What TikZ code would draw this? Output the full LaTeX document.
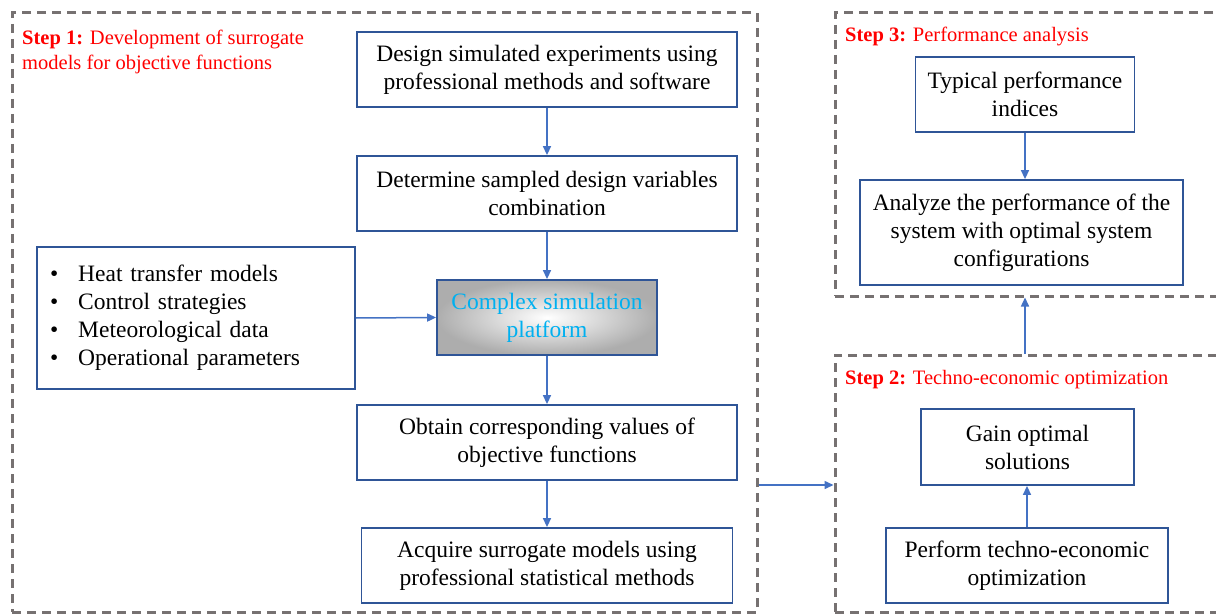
\documentclass[tikz,border=0pt]{standalone}
\usepackage{fontspec}
\setmainfont{Liberation Serif}
\usetikzlibrary{arrows.meta}
\definecolor{frameblue}{HTML}{2F5597}
\definecolor{arrowblue}{HTML}{4472C4}
\definecolor{dashgray}{HTML}{767171}
\definecolor{steptext}{HTML}{FF0000}
\definecolor{simtext}{HTML}{00B0F0}
\tikzset{
  box/.style={draw=frameblue, line width=1.8pt, fill=white, align=center,
    inner sep=0pt, font=\fontsize{23.5}{28}\selectfont},
  stage/.style={draw=dashgray, line width=3pt, dash pattern=on 9pt off 6pt,
    inner sep=0pt},
  flow/.style={draw=arrowblue, line width=1.5pt,
    -{Triangle[length=9pt,width=8pt]}},
  steplabel/.style={text=steptext, anchor=north west, align=left, inner sep=0pt,
    font=\fontsize{20.5}{25}\selectfont},
}
\begin{document}
\begin{tikzpicture}[x=1pt, y=-1pt]
\useasboundingbox (0,0) rectangle (1216,615);
\fill[white] (0,0) rectangle (1216,615);

% dashed stage frames
\node[stage, minimum width=745pt, minimum height=599pt] (s1) at (384.5,312.5) {};
\node[stage, minimum width=400pt, minimum height=283pt] (s3) at (1035,154.5) {};
\node[stage, minimum width=400pt, minimum height=257pt] (s2) at (1035,483.5) {};

% stage titles
\node[steplabel] (t1) at (22,30) {\textbf{Step 1:} Development of surrogate\\models for objective functions};
\node[steplabel] (t3) at (845,27) {\textbf{Step 3:} Performance analysis};
\node[steplabel] (t2) at (845,370) {\textbf{Step 2:} Techno-economic optimization};

% step 1 chain
\node[box, minimum width=380pt, minimum height=75pt] (design) at (547,69.5)
  {Design simulated experiments using\\professional methods and software};
\node[box, minimum width=380pt, minimum height=75pt] (determine) at (547,193.5)
  {Determine sampled design variables\\combination};
\node[box, minimum width=220pt, minimum height=75pt, inner color=white,
  outer color=black!32, text=simtext] (platform) at (547,317.5)
  {Complex simulation\\platform};
\node[box, minimum width=380pt, minimum height=75pt] (obtain) at (547,442.5)
  {Obtain corresponding values of\\objective functions};
\node[box, minimum width=371pt, minimum height=75pt] (acquire) at (547,565.5)
  {Acquire surrogate models using\\professional statistical methods};

% simulation inputs
\node[box, minimum height=142pt, inner xsep=13pt, text width=292pt, align=left]
  (inputs) at (196,318)
  {\textbullet\hspace{20pt}Heat transfer models\\
   \textbullet\hspace{20pt}Control strategies\\
   \textbullet\hspace{20pt}Meteorological data\\
   \textbullet\hspace{20pt}Operational parameters};

% step 3 boxes
\node[box, minimum width=219pt, minimum height=75pt] (typical) at (1025,94.5)
  {Typical performance\\indices};
\node[box, minimum width=323pt, minimum height=105pt] (analyze) at (1021.5,232.5)
  {Analyze the performance of the\\system with optimal system\\configurations};

% step 2 boxes
\node[box, minimum width=213pt, minimum height=76pt] (gain) at (1027.5,447)
  {Gain optimal\\solutions};
\node[box, minimum width=282pt, minimum height=75pt] (perform) at (1027,565.5)
  {Perform techno-economic\\optimization};

% connectors
\draw[flow] (design) -- (determine);
\draw[flow] (determine) -- (platform);
\draw[flow] (platform) -- (obtain);
\draw[flow] (obtain) -- (acquire);
\draw[flow] (inputs.east) -- (platform.west);
\draw[flow] (typical.south) -- (typical.south |- analyze.north);
\draw[flow] (perform.north) -- (perform.north |- gain.south);
\draw[flow] (s1.east |- 0,485) -- (s2.west |- 0,485);
\draw[flow] (s2.north -| 1025,0) -- (s3.south -| 1025,0);
\end{tikzpicture}
\end{document}
